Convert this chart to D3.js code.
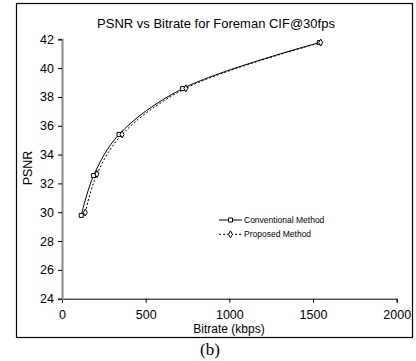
<!DOCTYPE html>
<html>
<head>
<meta charset="utf-8">
<script src="https://cdn.jsdelivr.net/npm/d3@7"></script>
<style>
  body { margin:0; background:#fff; }
  text { font-family: "Liberation Sans", Arial, sans-serif; fill:#000; }
</style>
</head>
<body>
<script>
// data
var convBitrate = [115, 189, 341, 721, 1538];
var convPsnr    = [29.78, 32.55, 35.4, 38.58, 41.77];
var propBitrate = [139, 209, 359, 740, 1546];
var propPsnr    = [29.98, 32.65, 35.4, 38.6, 41.77];
var xTicks = [0, 500, 1000, 1500, 2000];
var yTicks = [24, 26, 28, 30, 32, 34, 36, 38, 40, 42];
var seriesNames = ['Conventional Method', 'Proposed Method'];

var svgwidth = 416, svgheight = 361;

var svg = d3.select("body").append("svg")
            .attr("width", svgwidth)
            .attr("height", svgheight);

// outer frame
svg.append('rect')
   .attr('x', 16.5).attr('y', 3.5)
   .attr('width', 396).attr('height', 334)
   .attr('fill', 'none')
   .attr('stroke', '#000')
   .attr('stroke-width', 1.2);

var xscale = d3.scaleLinear().domain([0, 2000]).range([62, 396.7]);
var yscale = d3.scaleLinear().domain([24, 42]).range([298.7, 39.3]);

var xaxis = svg.append('g')
   .attr('transform', 'translate(0,298.7)')
   .call(d3.axisBottom(xscale).tickValues(xTicks).tickFormat(d3.format('d'))
           .tickSize(4).tickPadding(7));

var yaxis = svg.append('g')
   .attr('transform', 'translate(62,0)')
   .call(d3.axisLeft(yscale).tickValues(yTicks).tickSize(4).tickPadding(4));

[xaxis, yaxis].forEach(function(a){
  a.select('.domain').attr('stroke', '#000');
  a.selectAll('.tick line').attr('stroke', '#000');
  a.selectAll('.tick text').style('font-size', '12.5px')
   .style('font-family', '"Liberation Sans", Arial, sans-serif');
});
yaxis.select('.domain').attr('stroke', '#888').attr('stroke-width', 2);

// title and axis labels
svg.append('text')
   .attr('x', 216).attr('y', 28)
   .attr('text-anchor', 'middle')
   .style('font-size', '13px')
   .text('PSNR vs Bitrate for Foreman CIF@30fps');

svg.append('text')
   .attr('x', 229).attr('y', 333)
   .attr('text-anchor', 'middle')
   .style('font-size', '12px')
   .text('Bitrate (kbps)');

svg.append('text')
   .attr('transform', 'translate(32,168) rotate(-90)')
   .attr('text-anchor', 'middle')
   .style('font-size', '12.5px')
   .text('PSNR');

svg.append('text')
   .attr('x', 210).attr('y', 355)
   .attr('text-anchor', 'middle')
   .style('font-family', '"Liberation Serif", "Times New Roman", serif')
   .style('font-size', '17px')
   .text('(b)');

var line = d3.line()
   .x(function(d){ return xscale(d[0]); })
   .y(function(d){ return yscale(d[1]); })
   .curve(d3.curveCatmullRom.alpha(0.5));

var conv = convBitrate.map(function(d,i){ return [d, convPsnr[i]]; });
var prop = propBitrate.map(function(d,i){ return [d, propPsnr[i]]; });

svg.append('path').datum(prop)
   .attr('d', line).attr('fill', 'none')
   .attr('stroke', '#000').attr('stroke-width', 1)
   .attr('stroke-dasharray', '2,2');

svg.append('path').datum(conv)
   .attr('d', line).attr('fill', 'none')
   .attr('stroke', '#000').attr('stroke-width', 1);

var square = d3.symbol().type(d3.symbolSquare).size(16);
var diamond = d3.symbol().type(d3.symbolDiamond).size(14);

svg.selectAll('.convpt').data(conv).enter()
   .append('path')
   .attr('transform', function(d){ return 'translate(' + xscale(d[0]) + ',' + yscale(d[1]) + ')'; })
   .attr('d', square)
   .attr('fill', '#fff').attr('stroke', '#000').attr('stroke-width', 1);

svg.selectAll('.proppt').data(prop).enter()
   .append('path')
   .attr('transform', function(d){ return 'translate(' + xscale(d[0]) + ',' + yscale(d[1]) + ')'; })
   .attr('d', diamond)
   .attr('fill', '#fff').attr('stroke', '#000').attr('stroke-width', 1);

// legend
var legend = svg.selectAll('.legend').data(seriesNames).enter()
   .append('g')
   .attr('transform', function(d,i){ return 'translate(219,' + (220 + i*14.3) + ')'; });

legend.append('line')
   .attr('x1', 0).attr('x2', 23).attr('y1', 0).attr('y2', 0)
   .attr('stroke', '#000')
   .attr('stroke-dasharray', function(d,i){ return i == 1 ? '2,2' : null; });

legend.append('path')
   .attr('transform', 'translate(11.5,0)')
   .attr('d', function(d,i){ return i == 0 ? square() : diamond(); })
   .attr('fill', '#fff').attr('stroke', '#000');

legend.append('text')
   .attr('x', 25).attr('y', 3)
   .style('font-size', '8.5px')
   .text(function(d){ return d; });
</script>
</body>
</html>
